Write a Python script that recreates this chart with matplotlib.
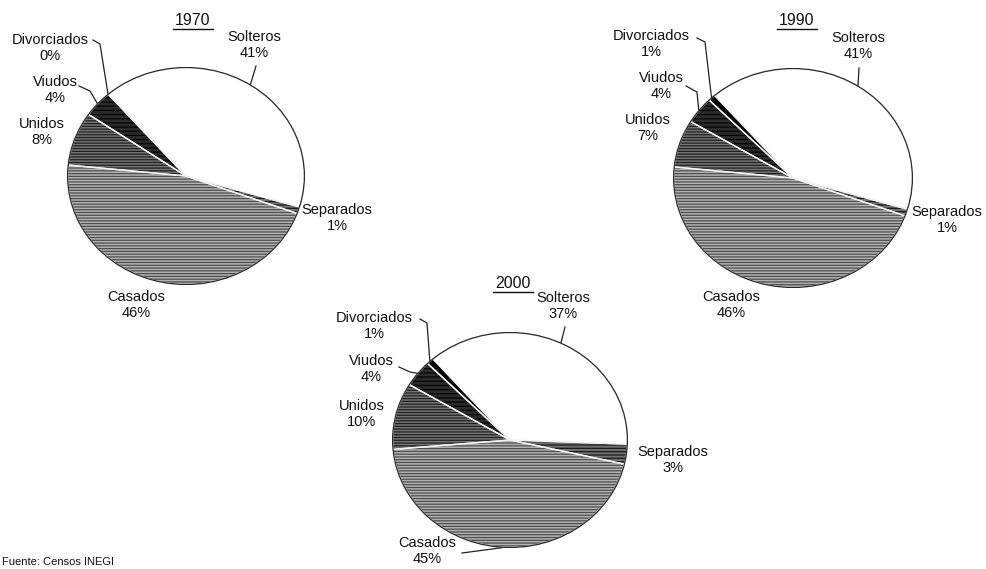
import numpy as np
import matplotlib
matplotlib.use("Agg")
import matplotlib.pyplot as plt
from matplotlib.patches import Circle

plt.rcParams["font.family"] = ["Liberation Sans", "DejaVu Sans"]
plt.rcParams["hatch.linewidth"] = 0.9

# Estado civil de la población, por año
categorias = ["Solteros", "Separados", "Casados", "Unidos", "Viudos", "Divorciados"]
valores_1970 = [41, 1, 46, 8, 4, 0]
valores_1990 = [41, 1, 46, 7, 4, 1]
valores_2000 = [37, 3, 45, 10, 4, 1]
anios = ["1970", "1990", "2000"]

W, H = 987, 569
fig = plt.figure(figsize=(W / 100, H / 100), dpi=100)
fig.patch.set_facecolor("white")

# apariencia de cada sector (relleno, trama, color de trama)
estilos = {
    "Solteros":    ("#ffffff", None, "#ffffff"),
    "Separados":   ("#707070", "-----", "#1a1a1a"),
    "Casados":     ("#b2b2b2", "------", "#4e4e4e"),
    "Unidos":      ("#747474", "------", "#202020"),
    "Viudos":      ("#2a2a2a", "----", "#050505"),
    "Divorciados": ("#000000", None, "#000000"),
}

# geometría de cada pastel en píxeles: centro y radios
pasteles = {
    "1970": dict(valores=valores_1970, c=(186, 176), rx=119, ry=109, titulo=(193, 20)),
    "1990": dict(valores=valores_1990, c=(793, 178), rx=120, ry=110, titulo=(797, 20)),
    "2000": dict(valores=valores_2000, c=(510, 440), rx=118, ry=108, titulo=(513, 283)),
}

# etiquetas: posición del texto y trazo de la línea guía (vértices previos al borde)
etiquetas = {
    "1970": {
        "Divorciados": ((50, 48), [(93, 40), (100, 44)]),
        "Viudos": ((55, 90), [(79, 86), (90, 91)]),
        "Unidos": ((42, 132), None),
        "Solteros": ((254, 45), [(256, 66)]),
        "Separados": ((337, 218), None),
        "Casados": ((136, 305), None),
    },
    "1990": {
        "Divorciados": ((651, 44), [(697, 38), (705, 42)]),
        "Viudos": ((661, 86), [(686, 86), (697, 92)]),
        "Unidos": ((648, 128), None),
        "Solteros": ((858, 46), [(859, 68)]),
        "Separados": ((947, 220), None),
        "Casados": ((731, 305), None),
    },
    "2000": {
        "Divorciados": ((374, 326), [(420, 319), (427, 323)]),
        "Viudos": ((371, 369), [(399, 367), (410, 372)]),
        "Unidos": ((362, 414), None),
        "Solteros": ((563, 306), [(565, 327)]),
        "Separados": ((673, 460), None),
        "Casados": ((427, 551), [(462, 553)]),
    },
}

ejes_pastel = {}
for anio in anios:
    p = pasteles[anio]
    cx, cy = p["c"]
    rx, ry = p["rx"], p["ry"]
    ax = fig.add_axes([(cx - rx) / W, 1 - (cy + ry) / H, 2 * rx / W, 2 * ry / H])
    colores = [estilos[c][0] for c in categorias]
    wedges, _ = ax.pie(p["valores"], colors=colores, startangle=131,
                       counterclock=False, radius=1,
                       wedgeprops=dict(linewidth=0))
    for w, cat in zip(wedges, categorias):
        fc, hatch, hc = estilos[cat]
        w.set_edgecolor(hc)
        w.set_linewidth(0)
        if hatch:
            w.set_hatch(hatch)
    # separaciones claras entre sectores
    ax.pie(p["valores"], colors=["none"] * len(categorias), startangle=131,
           counterclock=False, radius=1,
           wedgeprops=dict(linewidth=1.0, edgecolor="#f2f2f2", fill=False))
    ax.add_patch(Circle((0, 0), 1, fill=False, edgecolor="#2a2a2a", linewidth=0.9))
    ax.set_aspect("auto")
    ax.set_xlim(-1.005, 1.005)
    ax.set_ylim(-1.005, 1.005)
    ax.axis("off")
    ejes_pastel[anio] = (wedges, p)

# capa en píxeles para textos y líneas guía
top = fig.add_axes([0, 0, 1, 1], zorder=10)
top.set_xlim(0, W)
top.set_ylim(H, 0)
top.axis("off")
top.patch.set_alpha(0)

fs = 10.5
for anio in anios:
    wedges, p = ejes_pastel[anio]
    cx, cy = p["c"]
    rx, ry = p["rx"], p["ry"]
    tx, ty = p["titulo"]
    top.text(tx, ty, anio, ha="center", va="center", fontsize=11.5, color="#111111")
    top.plot([tx - 20, tx + 20], [ty + 9, ty + 9], color="#111111", lw=1.0)
    for cat, val, w in zip(categorias, p["valores"], wedges):
        (lx, ly), guia = etiquetas[anio][cat]
        top.text(lx, ly, f"{cat}\n{val}%", ha="center", va="center",
                 fontsize=fs, color="#111111", linespacing=1.2)
        if guia:
            ang = np.deg2rad((w.theta1 + w.theta2) / 2)
            ex = cx + rx * np.cos(ang)
            ey = cy - ry * np.sin(ang)
            xs = [q[0] for q in guia] + [ex]
            ys = [q[1] for q in guia] + [ey]
            top.plot(xs, ys, color="#222222", lw=0.9)

# nota de fuente al pie
top.text(2, 567, "Fuente: Censos INEGI", ha="left", va="bottom", fontsize=8,
         color="#111111")

fig.savefig("out.png", dpi=100, facecolor="white")
